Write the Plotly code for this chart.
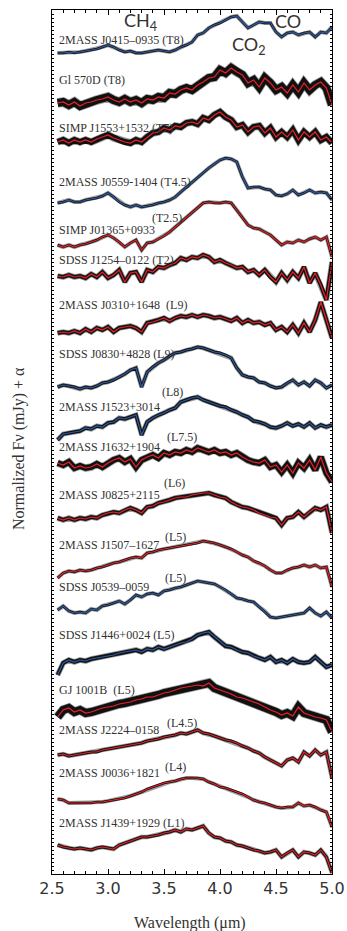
import plotly.graph_objects as go

wavelength = [2.55, 2.60, 2.65, 2.70, 2.75, 2.80, 2.85, 2.90, 2.95, 3.00,
              3.05, 3.10, 3.15, 3.20, 3.25, 3.30, 3.35, 3.40, 3.45, 3.50,
              3.55, 3.60, 3.65, 3.70, 3.75, 3.80, 3.85, 3.90, 3.95, 4.00,
              4.05, 4.10, 4.15, 4.20, 4.25, 4.30, 4.35, 4.40, 4.45, 4.50,
              4.55, 4.60, 4.65, 4.70, 4.75, 4.80, 4.85, 4.90, 4.95, 5.00]

names = ["2MASS J0415\u20130935", "Gl 570D", "SIMP J1553+1532", "2MASS J0559-1404",
         "SIMP J01365+0933", "SDSS J1254\u20130122", "2MASS J0310+1648 ", "SDSS J0830+4828",
         "2MASS J1523+3014", "2MASS J1632+1904", "2MASS J0825+2115", "2MASS J1507\u20131627",
         "SDSS J0539\u20130059", "SDSS J1446+0024", "GJ 1001B ", "2MASS J2224\u20130158",
         "2MASS J0036+1821", "2MASS J1439+1929"]
spectral_types = ["(T8)", "(T8)", "(T7)", "(T4.5)", "(T2.5)", "(T2)", "(L9)", "(L9)",
                  "(L8)", "(L7.5)", "(L6)", "(L5)", "(L5)", "(L5)", "(L5)", "(L4.5)",
                  "(L4)", "(L1)"]
offsets = [821, 771, 732, 671, 629, 598, 541, 487, 437, 411, 356, 296, 264, 214, 157, 119, 74, 29]

flux = [
    [0, 0, 1, 0, 1, 2, 3, 4, 6, 8, 6, 3, 1, 2, 0, 0, 1, 2, 3, 2, 1, 3, 6, 8, 11, 18, 20, 25, 28, 30, 33, 36, 37, 31, 25, 28, 31, 30, 30, 21, 16, 20, 21, 18, 20, 21, 16, 21, 20, 26],
    [0, 1, -2, 1, -3, 0, 1, 3, 4, 6, 3, 1, 4, 1, 3, 0, 4, 3, 6, 5, 10, 9, 13, 15, 13, 18, 21, 25, 26, 33, 30, 35, 31, 28, 20, 23, 16, 25, 20, 13, 16, 10, 18, 11, 20, 13, 18, 21, 15, -2],
    [0, 2, -1, 2, 0, 2, 0, 3, 5, 7, 4, 2, 0, -1, 2, 0, 5, 9, 10, 14, 12, 16, 15, 19, 20, 18, 24, 22, 27, 30, 25, 22, 15, 17, 10, 15, 16, 9, 14, 5, 10, 5, 12, 2, 10, 5, 10, 2, 5, -1],
    [0, 1, 3, 1, 1, 3, 4, 5, 7, 10, 6, 1, -2, -4, -2, -4, -3, -2, 0, 1, 3, 6, 11, 16, 21, 26, 30, 35, 39, 43, 45, 44, 41, 26, 15, 16, 16, 14, 13, 8, 7, 9, 13, 8, 10, 13, 10, 11, 10, 3],
    [0, -2, 0, -2, 0, 1, 3, 5, 8, 10, 7, 3, -2, 2, 5, -5, 2, 3, 6, 9, 13, 18, 23, 28, 33, 38, 42, 43, 42, 42, 43, 42, 35, 28, 20, 17, 16, 13, 10, 5, 0, 3, 2, 5, 3, 6, 8, 5, 8, -12],
    [0, -1, 1, -1, 0, -2, 2, -1, 4, -2, 1, 6, -6, 3, 4, -6, 6, 4, 9, 8, 11, 13, 18, 16, 19, 18, 21, 19, 14, 16, 13, 11, 8, 9, 4, 6, 1, 6, -1, -6, 3, -4, 4, -2, 9, -7, 3, -9, -24, 14],
    [0, 1, 0, 2, 0, 4, 1, 5, 3, 6, 1, 5, 6, 7, 5, 1, 10, 11, 13, 15, 12, 15, 17, 16, 18, 16, 18, 17, 15, 16, 14, 12, 15, 10, 13, 10, 11, 8, 10, 3, 6, 1, 8, 0, 10, 1, 13, 31, 13, -5],
    [0, 2, 1, 0, -2, 0, -1, 1, 4, 5, 7, 10, 13, 17, 19, 0, 15, 20, 24, 27, 31, 34, 35, 37, 38, 40, 39, 37, 35, 34, 32, 29, 19, 12, 10, 9, 5, 4, 1, -1, 0, 4, 7, 2, 5, 1, 7, 4, -1, 2],
    [-3, 3, 4, 5, 6, 9, 8, 11, 10, 14, 15, 19, 18, 20, 22, 2, 15, 19, 22, 24, 27, 29, 35, 37, 39, 40, 37, 35, 33, 31, 30, 27, 25, 22, 20, 16, 15, 13, 10, 9, 11, 14, 11, 13, 10, 14, 9, 12, 10, 12],
    [0, -2, 1, -5, -3, -5, -4, -1, -4, 0, 3, 5, 1, 4, -4, 3, 6, 8, 5, 10, 8, 11, 10, 13, 11, 15, 13, 11, 13, 10, 11, 8, 10, 6, 3, 1, 0, 3, -4, -2, -9, -2, -10, 0, -5, 3, -7, 6, -10, -19],
    [0, -2, 0, -2, 0, -1, 1, 0, 3, 5, 6, 5, 8, 10, 8, 5, 11, 12, 15, 16, 18, 20, 21, 21, 23, 24, 25, 25, 23, 21, 20, 16, 13, 11, 10, 8, 5, 3, 1, 0, -7, 0, 1, 6, 1, 6, 10, 8, 11, -15],
    [0, 5, 7, 6, 8, 7, 8, 10, 11, 13, 15, 16, 18, 20, 21, 20, 25, 26, 28, 29, 30, 31, 32, 33, 34, 35, 37, 36, 35, 33, 31, 29, 26, 23, 21, 17, 15, 12, 8, 5, 5, 8, 10, 11, 13, 11, 13, 10, 11, -9],
    [0, 4, -1, -3, -2, -3, 1, 0, 4, 5, 7, 9, 6, 10, 15, 13, 16, 17, 15, 19, 20, 22, 23, 25, 27, 29, 28, 27, 26, 23, 20, 16, 12, 11, 9, 8, 3, -1, -7, -8, -7, -6, -5, -4, -3, 2, -3, -6, -2, -8],
    [-15, -3, 0, -2, 0, -1, 1, 2, 3, 4, 5, 7, 8, 9, 10, 8, 11, 10, 13, 11, 13, 15, 17, 18, 21, 25, 27, 28, 23, 18, 14, 13, 10, 8, 7, 4, 2, 0, 3, -2, 0, -3, 1, -2, -3, -2, 3, -2, -7, -5],
    [0, 7, 9, 5, 7, 4, 5, 7, 9, 10, 11, 13, 14, 15, 17, 18, 20, 20, 22, 24, 25, 27, 29, 30, 31, 32, 31, 34, 29, 27, 25, 23, 20, 19, 17, 15, 13, 10, 7, 5, 2, 4, 1, 10, 4, 2, 0, -1, -3, -15],
    [0, 1, -1, 0, 1, 2, 3, 3, 5, 6, 7, 8, 9, 10, 11, 12, 14, 15, 16, 18, 19, 20, 22, 21, 23, 25, 22, 21, 19, 17, 15, 14, 12, 9, 7, 4, 2, -2, -5, -8, -11, -5, -3, -7, 3, -1, 5, 0, 3, -23],
    [1, 0, -3, -3, -3, -3, -3, -2, -2, -1, 0, 1, 2, 4, 6, 8, 11, 13, 15, 17, 18, 19, 21, 22, 22, 22, 21, 18, 16, 13, 12, 10, 8, 6, 3, 0, -2, -3, -5, -7, -8, -7, -7, -3, -6, -5, -7, -10, -12, -27],
    [0, -2, -3, -4, -3, -4, -5, -3, -2, -3, -4, 0, 2, 4, 6, 8, 8, 9, 10, 12, 13, 15, 13, 16, 15, 17, 19, 12, 8, 7, 4, 3, 0, -1, -3, -5, -6, -8, -7, -5, -12, -8, -5, -12, -7, -8, -10, -5, -12, -28],
]

label_y = [834, 794, 746, 692, 644, 614, 569, 520, 467, 427, 379, 329, 287, 239, 184, 144, 101, 51]
type_pos = [None, None, None, None, (3.375, 656), None, None, None, (3.46, 482), (3.51, 437),
            (3.48, 391), (3.49, 337), (3.49, 296), None, None, (3.51, 151), (3.49, 107), None]

colors = ["blue", "red", "red", "blue", "red", "red", "red", "blue", "blue", "red",
          "red", "red", "blue", "blue", "red", "red", "red", "red"]
band_width = [2.5, 8, 6, 2.5, 2.5, 4, 4, 3, 3.5, 6, 4, 2.5, 2.5, 4, 8, 3, 2.5, 3]

COL = {"red": "#ee2026", "blue": "#2b5ca8"}

fig = go.Figure()
for i in range(len(names)):
    y = [offsets[i] + v for v in flux[i]]
    fig.add_trace(go.Scatter(x=wavelength, y=y, mode="lines",
                             line=dict(color="#a0a0a0", width=band_width[i] + 1.6),
                             hoverinfo="skip", showlegend=False))
    fig.add_trace(go.Scatter(x=wavelength, y=y, mode="lines",
                             line=dict(color="#111111", width=band_width[i]),
                             hoverinfo="skip", showlegend=False))
    fig.add_trace(go.Scatter(x=wavelength, y=y, mode="lines",
                             line=dict(color=COL[colors[i]], width=1.2),
                             name=names[i], showlegend=False))

lab_font = dict(family="Liberation Serif, Times New Roman, serif", size=12, color="#333333")
annotations = []
for i in range(len(names)):
    if type_pos[i] is None:
        annotations.append(dict(x=2.545, y=label_y[i], xref="x", yref="y", xanchor="left",
                                yanchor="middle", showarrow=False,
                                text=names[i] + " " + spectral_types[i], font=lab_font))
    else:
        annotations.append(dict(x=2.545, y=label_y[i], xref="x", yref="y", xanchor="left",
                                yanchor="middle", showarrow=False, text=names[i], font=lab_font))
        annotations.append(dict(x=type_pos[i][0], y=type_pos[i][1], xref="x", yref="y",
                                xanchor="left", yanchor="middle", showarrow=False,
                                text=spectral_types[i], font=lab_font))

mol_font = dict(family="Lato, DejaVu Sans, sans-serif", size=18, color="#333333")
molecules = [("CH<sub>4</sub>", 3.29, 853), ("CO<sub>2</sub>", 4.26, 829), ("CO", 4.61, 853)]
for t, xx, yy in molecules:
    annotations.append(dict(x=xx, y=yy, xref="x", yref="y", text=t, showarrow=False,
                            font=mol_font, xanchor="center", yanchor="middle"))

title_font = dict(family="Liberation Serif, serif", size=16, color="#333333")
annotations.append(dict(x=-0.118, y=0.493, xref="paper", yref="paper", textangle=-90,
                        text="Normalized F\u03bd (mJy) + \u03b1", showarrow=False,
                        font=title_font, xanchor="center", yanchor="middle"))
annotations.append(dict(x=0.493, y=-0.0567, xref="paper", yref="paper",
                        text="Wavelength (\u03bcm)", showarrow=False,
                        font=title_font, xanchor="center", yanchor="middle"))

fig.update_layout(
    width=347, height=931,
    margin=dict(l=52, r=15, t=10, b=57),
    paper_bgcolor="white", plot_bgcolor="white",
    annotations=annotations,
    xaxis=dict(range=[2.5, 5.0], dtick=0.5, tick0=2.5, tickformat=".1f",
               ticks="inside", ticklen=5, tickcolor="black", mirror="allticks",
               showline=True, linecolor="black", linewidth=1, showgrid=False, zeroline=False,
               minor=dict(dtick=0.1, ticks="inside", ticklen=3, tickcolor="black"),
               tickfont=dict(family="DejaVu Sans, sans-serif", size=16, color="#333333"),
               ticklabelstandoff=0, ticklabeloverflow="allow", automargin=False),
    yaxis=dict(range=[0, 864], showticklabels=False, ticks="inside", ticklen=2, dtick=4,
               tickcolor="black", mirror="allticks", showline=True, linecolor="black",
               linewidth=1, showgrid=False, zeroline=False, automargin=False),
)

# remove the browser's default 8px body margin so the figure fills the window exactly
fig.write_html("out.html", config={"displayModeBar": False},
               post_script="document.body.style.margin='0';document.body.style.overflow='hidden';")
